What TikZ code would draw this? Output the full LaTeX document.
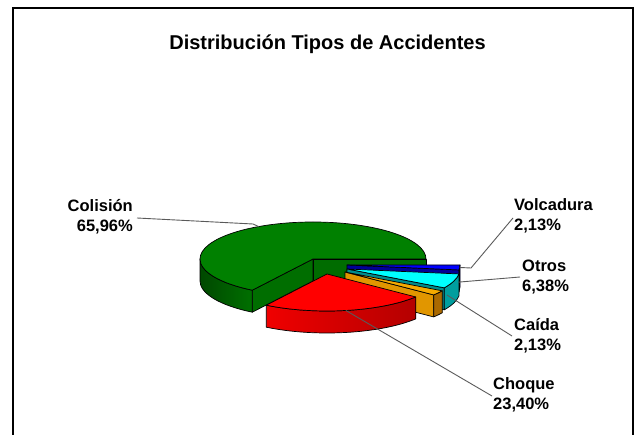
\documentclass[tikz,border=0pt]{standalone}
\usepackage{fontspec}
\setmainfont{Liberation Sans}
\definecolor{gtop}{RGB}{0,128,0}
\definecolor{gface0}{RGB}{0,108,0}
\definecolor{gfaceE}{RGB}{0,110,0}
\definecolor{gsideL}{RGB}{0,72,0}
\definecolor{gsideR}{RGB}{0,112,0}
\definecolor{rtop}{RGB}{255,0,0}
\definecolor{rsideL}{RGB}{240,0,0}
\definecolor{rsideR}{RGB}{180,0,0}
\definecolor{otop}{RGB}{245,170,0}
\definecolor{oface}{RGB}{225,150,0}
\definecolor{oside}{RGB}{170,105,0}
\definecolor{ctop}{RGB}{0,255,255}
\definecolor{cface}{RGB}{0,140,140}
\definecolor{cside}{RGB}{0,158,158}
\definecolor{btop}{RGB}{0,0,255}
\definecolor{bface}{RGB}{0,0,150}
\definecolor{bside}{RGB}{0,0,170}
\definecolor{leadc}{RGB}{90,90,90}
\newcommand{\twol}[3]{\begin{tabular}[t]{@{}#1@{}}#2\\#3\end{tabular}}
\begin{document}
\begin{tikzpicture}[x=1pt,y=1pt,
  edge/.style={draw=black,line width=0.7pt,line join=round},
  leader/.style={draw=leadc,line width=0.9pt},
  lbl/.style={inner sep=0pt,font=\fontsize{16.5}{19.5}\selectfont\bfseries},
  ttl/.style={inner sep=0pt,font=\fontsize{20}{24}\selectfont\bfseries}]
\useasboundingbox (0,0) rectangle (641,-435);
\clip (0,0) rectangle (641,-435);
\draw[line width=2pt] (13,-8) rectangle (633,-470);
\node[ttl,anchor=base] (title) at (327.5,-50) {Distribución Tipos de Accidentes};
% green slice
\begin{scope}[shift={(313,-259)}]
  \filldraw[edge,fill=gface0] (0,0) -- (0:113pt and 37pt) -- ++(0,-22) -- (0,-22) -- cycle;
  \filldraw[edge,fill=gfaceE] (0,0) -- (237.5:113pt and 37pt) -- ++(0,-22) -- (0,-22) -- cycle;
  \path[edge,left color=gsideL,right color=gsideR] (180:113pt and 37pt)
    arc[start angle=180,end angle=237.5,x radius=113pt,y radius=37pt] -- ++(0,-22)
    arc[start angle=237.5,end angle=180,x radius=113pt,y radius=37pt] -- cycle;
  \filldraw[edge,fill=gtop] (0,0) -- (0:113pt and 37pt)
    arc[start angle=0,end angle=237.5,x radius=113pt,y radius=37pt] -- cycle;
  \coordinate (gmid) at (118.75:113pt and 37pt);
\end{scope}
% blue slice
\begin{scope}[shift={(347,-265)}]
  \filldraw[edge,fill=bface] (0,0) -- (352.3:113pt and 37pt) -- ++(0,-22) -- (0,-22) -- cycle;
  \filldraw[edge,fill=bside] (352.3:113pt and 37pt)
    arc[start angle=352.3,end angle=360,x radius=113pt,y radius=37pt] -- ++(0,-22)
    arc[start angle=360,end angle=352.3,x radius=113pt,y radius=37pt] -- cycle;
  \filldraw[edge,fill=btop] (0,0) -- (352.3:113pt and 37pt)
    arc[start angle=352.3,end angle=360,x radius=113pt,y radius=37pt] -- cycle;
  \coordinate (bmid) at (356.15:113pt and 37pt);
\end{scope}
% cyan slice
\begin{scope}[shift={(347,-269)}]
  \filldraw[edge,fill=cface] (0,0) -- (329.4:113pt and 37pt) -- ++(0,-22) -- (0,-22) -- cycle;
  \filldraw[edge,fill=cside] (329.4:113pt and 37pt)
    arc[start angle=329.4,end angle=352.3,x radius=113pt,y radius=37pt] -- ++(0,-22)
    arc[start angle=352.3,end angle=329.4,x radius=113pt,y radius=37pt] -- cycle;
  \filldraw[edge,fill=ctop] (0,0) -- (329.4:113pt and 37pt)
    arc[start angle=329.4,end angle=352.3,x radius=113pt,y radius=37pt] -- cycle;
  \coordinate (cmid) at (340.85:118pt and 40pt);
\end{scope}
% orange slice
\begin{scope}[shift={(345,-272)}]
  \filldraw[edge,fill=oface] (0,0) -- (321.7:113pt and 37pt) -- ++(0,-22) -- (0,-22) -- cycle;
  \filldraw[edge,fill=oside] (321.7:113pt and 37pt)
    arc[start angle=321.7,end angle=329.4,x radius=113pt,y radius=37pt] -- ++(0,-22)
    arc[start angle=329.4,end angle=321.7,x radius=113pt,y radius=37pt] -- cycle;
  \filldraw[edge,fill=otop] (0,0) -- (321.7:113pt and 37pt)
    arc[start angle=321.7,end angle=329.4,x radius=113pt,y radius=37pt] -- cycle;
  \coordinate (omid) at (325.55:113pt and 37pt);
\end{scope}
% red slice
\begin{scope}[shift={(327,-274)}]
  \path[edge,left color=rsideL,right color=rsideR] (237.5:113pt and 37pt)
    arc[start angle=237.5,end angle=321.7,x radius=113pt,y radius=37pt] -- ++(0,-22)
    arc[start angle=321.7,end angle=237.5,x radius=113pt,y radius=37pt] -- cycle;
  \filldraw[edge,fill=rtop] (0,0) -- (237.5:113pt and 37pt)
    arc[start angle=237.5,end angle=321.7,x radius=113pt,y radius=37pt] -- cycle;
  \coordinate (rmid) at (279.6:113pt and 37pt);
\end{scope}
% labels
\node[lbl,anchor=base east] (col) at (133,-212) {\twol{r}{Colisión}{65,96\%}};
\node[lbl,anchor=base west] (vol) at (514,-211) {\twol{l}{Volcadura}{2,13\%}};
\node[lbl,anchor=base west] (otr) at (522,-272) {\twol{l}{Otros}{6,38\%}};
\node[lbl,anchor=base west] (cai) at (514,-331) {\twol{l}{Caída}{2,13\%}};
\node[lbl,anchor=base west] (cho) at (493,-390) {\twol{l}{Choque}{23,40\%}};
% leader lines
\coordinate (colS) at (137,-218);
\coordinate (colB) at (253,-224);
\coordinate (volS) at (513,-218);
\coordinate (volB) at (471,-268);
\coordinate (otrS) at (520,-277);
\coordinate (caiS) at (512,-336);
\coordinate (caiE) at (447,-295);
\coordinate (choS) at (492,-396);
\draw[leader] (colS) -- (colB) -- (gmid);
\draw[leader] (volS) -- (volB) -- (bmid);
\draw[leader] (otrS) -- (cmid);
\draw[leader] (caiS) -- (caiE);
\draw[leader] (choS) -- (rmid);
\end{tikzpicture}
\end{document}
